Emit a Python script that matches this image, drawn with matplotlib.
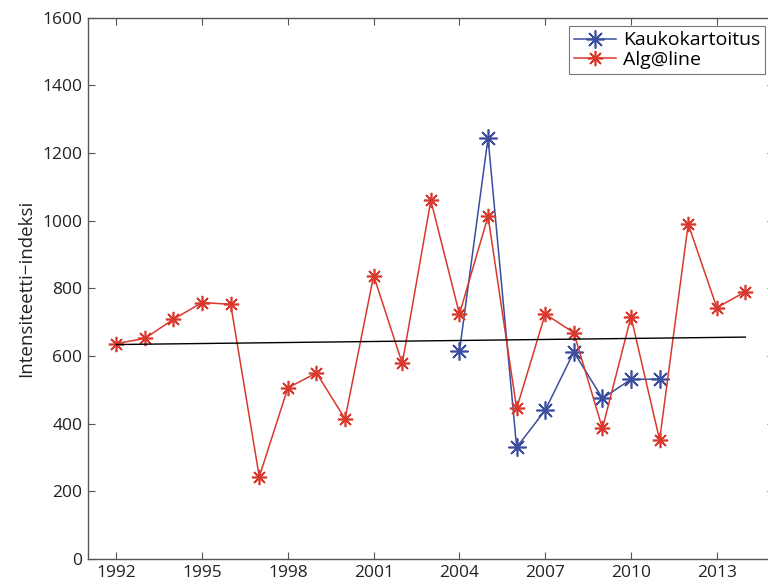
import numpy as np
import matplotlib
matplotlib.use("Agg")
import matplotlib.pyplot as plt

# ---- data ----
years_alg = list(range(1992, 2015))
alg_vals = [637, 652, 709, 758, 753, 243, 506, 550, 414, 838, 578, 1060,
            724, 1013, 445, 724, 669, 386, 716, 352, 990, 743, 790]

years_kauko = list(range(2004, 2012))
kauko_vals = [614, 1245, 330, 440, 612, 475, 531, 532]

trend_years = [1992, 2014]
trend_vals = [634, 656]

xtick_years = [1992, 1995, 1998, 2001, 2004, 2007, 2010, 2013]
ytick_vals = [0, 200, 400, 600, 800, 1000, 1200, 1400, 1600]

red = "#d8392c"
blue = "#3b4d9e"
axis_col = "#555555"

plt.rcParams['font.family'] = ['Open Sans', 'DejaVu Sans']

fig = plt.figure(figsize=(7.68, 5.85), dpi=100)
ax = fig.add_axes([0.1142, 0.0444, 0.8936, 0.9253])

star = (8, 2, 0)
ax.plot(years_kauko, kauko_vals, color=blue, lw=1.1, marker=star, ms=13,
        mew=1.2, label="Kaukokartoitus")
ax.plot(years_alg, alg_vals, color=red, lw=1.1, marker=star, ms=11,
        mew=1.2, label="Alg@line")
ax.plot(trend_years, trend_vals, color="black", lw=1.0)

ax.set_xlim(1991, 2015)
ax.set_ylim(0, 1600)
ax.set_xticks(xtick_years)
ax.set_yticks(ytick_vals)
ax.tick_params(direction="in", top=True, right=True, length=5,
               color=axis_col, labelsize=12.5, labelcolor="#222222", pad=4)
for s in ax.spines.values():
    s.set_color(axis_col)
    s.set_linewidth(1.0)

ax.set_ylabel("Intensiteetti\u2212indeksi", fontsize=13.5, color="#222222", labelpad=5)

leg = ax.legend(loc="upper right", fontsize=14, frameon=True, fancybox=False,
                edgecolor=axis_col, borderaxespad=0.45, handlelength=2.2,
                borderpad=0.25, labelspacing=0.1, handletextpad=0.35)
leg.get_frame().set_linewidth(0.8)

fig.savefig("out.png", dpi=100)
